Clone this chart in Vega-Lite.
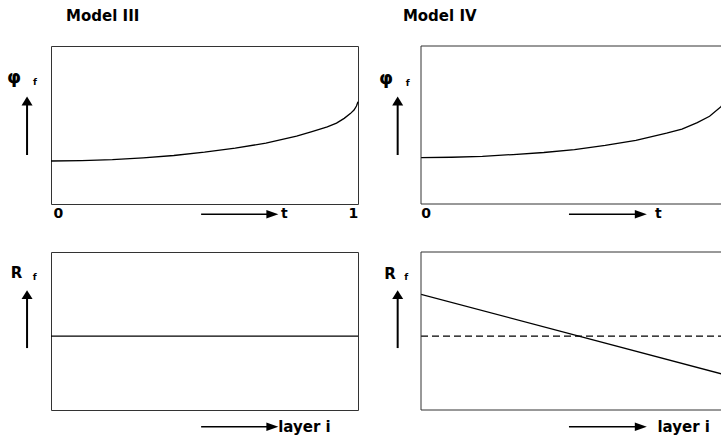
{
  "$schema": "https://vega.github.io/schema/vega-lite/v6.json",
  "background": "white",
  "padding": {"left": 6, "top": 8, "right": 0, "bottom": 0},
  "datasets": {
    "phi_III": [
      {"t": 0.0, "phi": 0.272}, {"t": 0.1, "phi": 0.275}, {"t": 0.2, "phi": 0.281},
      {"t": 0.3, "phi": 0.292}, {"t": 0.4, "phi": 0.307}, {"t": 0.5, "phi": 0.328},
      {"t": 0.6, "phi": 0.354}, {"t": 0.7, "phi": 0.385}, {"t": 0.8, "phi": 0.43},
      {"t": 0.85, "phi": 0.458}, {"t": 0.9, "phi": 0.488}, {"t": 0.93, "phi": 0.512},
      {"t": 0.955, "phi": 0.542}, {"t": 0.975, "phi": 0.572}, {"t": 0.987, "phi": 0.595},
      {"t": 0.995, "phi": 0.62}, {"t": 1.0, "phi": 0.647}
    ],
    "phi_IV": [
      {"t": 0.0, "phi": 0.293}, {"t": 0.1, "phi": 0.296}, {"t": 0.2, "phi": 0.302},
      {"t": 0.3, "phi": 0.313}, {"t": 0.4, "phi": 0.326}, {"t": 0.5, "phi": 0.344},
      {"t": 0.6, "phi": 0.371}, {"t": 0.7, "phi": 0.403}, {"t": 0.8, "phi": 0.448},
      {"t": 0.85, "phi": 0.474}, {"t": 0.9, "phi": 0.515}, {"t": 0.94, "phi": 0.555},
      {"t": 0.977, "phi": 0.616}, {"t": 1.0, "phi": 0.68}
    ],
    "r_III": [{"layer": 0, "r": 0.468}, {"layer": 1, "r": 0.468}],
    "r_IV": [{"layer": 0, "r": 0.732}, {"layer": 1, "r": 0.218}],
    "r_IV_ref": [{"layer": 0, "r": 0.468}, {"layer": 1, "r": 0.468}]
  },
  "data": {"values": [{}]},
  "config": {
    "view": {"stroke": "#333", "strokeWidth": 1},
    "axis": {"disable": true},
    "text": {"font": "DejaVu Sans", "color": "black", "baseline": "middle"},
    "line": {"color": "black"},
    "rule": {"color": "black"},
    "point": {"color": "black", "filled": true, "opacity": 1}
  },
  "columns": 2,
  "spacing": {"row": 48, "column": 63},
  "bounds": "flush",
  "concat": [
    {
      "width": 307, "height": 158,
      "layer": [
        {"data": {"name": "phi_III"}, "mark": {"type": "line", "strokeWidth": 1.3},
         "encoding": {"x": {"field": "t", "type": "quantitative", "scale": {"domain": [0, 1]}},
                      "y": {"field": "phi", "type": "quantitative", "scale": {"domain": [0, 1]}}}},
        {"mark": {"type": "text", "text": "Model III", "align": "left", "fontSize": 15, "fontWeight": "bold"},
         "encoding": {"x": {"datum": 0.049, "type": "quantitative", "scale": {"domain": [0, 1]}},
                      "y": {"datum": 1.19, "type": "quantitative", "scale": {"domain": [0, 1]}}}},
        {"mark": {"type": "text", "text": "φ", "fontSize": 18, "fontWeight": "bold"},
         "encoding": {"x": {"datum": -0.12, "type": "quantitative", "scale": {"domain": [0, 1]}},
                      "y": {"datum": 0.8, "type": "quantitative", "scale": {"domain": [0, 1]}}}},
        {"mark": {"type": "text", "text": "f", "fontSize": 9, "fontWeight": "bold"},
         "encoding": {"x": {"datum": -0.052, "type": "quantitative", "scale": {"domain": [0, 1]}},
                      "y": {"datum": 0.77, "type": "quantitative", "scale": {"domain": [0, 1]}}}},
        {"mark": {"type": "rule", "strokeWidth": 2},
         "encoding": {"x": {"datum": -0.078, "type": "quantitative", "scale": {"domain": [0, 1]}},
                      "y": {"datum": 0.31, "type": "quantitative", "scale": {"domain": [0, 1]}},
                      "y2": {"datum": 0.63}}},
        {"mark": {"type": "point", "shape": "M-1,0.8L0,-0.8L1,0.8Z", "size": 121, "strokeWidth": 0},
         "encoding": {"x": {"datum": -0.078, "type": "quantitative", "scale": {"domain": [0, 1]}},
                      "y": {"datum": 0.652, "type": "quantitative", "scale": {"domain": [0, 1]}}}},
        {"mark": {"type": "rule", "strokeWidth": 1.6},
         "encoding": {"x": {"datum": 0.489, "type": "quantitative", "scale": {"domain": [0, 1]}},
                      "x2": {"datum": 0.705},
                      "y": {"datum": -0.065, "type": "quantitative", "scale": {"domain": [0, 1]}}}},
        {"mark": {"type": "point", "shape": "M-1,-0.7L1,0L-1,0.7Z", "size": 144, "strokeWidth": 0},
         "encoding": {"x": {"datum": 0.721, "type": "quantitative", "scale": {"domain": [0, 1]}},
                      "y": {"datum": -0.065, "type": "quantitative", "scale": {"domain": [0, 1]}}}},
        {"mark": {"type": "text", "text": "t", "align": "left", "fontSize": 14, "fontWeight": "bold"},
         "encoding": {"x": {"datum": 0.749, "type": "quantitative", "scale": {"domain": [0, 1]}},
                      "y": {"datum": -0.065, "type": "quantitative", "scale": {"domain": [0, 1]}}}},
        {"mark": {"type": "text", "text": "0", "fontSize": 14, "fontWeight": "bold"},
         "encoding": {"x": {"datum": 0.024, "type": "quantitative", "scale": {"domain": [0, 1]}},
                      "y": {"datum": -0.062, "type": "quantitative", "scale": {"domain": [0, 1]}}}},
        {"mark": {"type": "text", "text": "1", "fontSize": 14, "fontWeight": "bold"},
         "encoding": {"x": {"datum": 0.985, "type": "quantitative", "scale": {"domain": [0, 1]}},
                      "y": {"datum": -0.062, "type": "quantitative", "scale": {"domain": [0, 1]}}}}
      ]
    },
    {
      "width": 301, "height": 158,
      "view": {"stroke": null},
      "layer": [
        {"data": {"name": "phi_IV"}, "mark": {"type": "line", "strokeWidth": 1.3, "clip": true},
         "encoding": {"x": {"field": "t", "type": "quantitative", "scale": {"domain": [0, 0.9805]}},
                      "y": {"field": "phi", "type": "quantitative", "scale": {"domain": [0, 1]}}}},
        {"mark": {"type": "rule", "strokeWidth": 1, "color": "#333"},
         "encoding": {"x": {"datum": 0, "type": "quantitative", "scale": {"domain": [0, 0.9805]}},
                      "y": {"datum": 0, "type": "quantitative", "scale": {"domain": [0, 1]}},
                      "y2": {"datum": 1}}},
        {"mark": {"type": "rule", "strokeWidth": 1, "color": "#333"},
         "encoding": {"x": {"datum": 0, "type": "quantitative", "scale": {"domain": [0, 0.9805]}},
                      "x2": {"datum": 0.9805},
                      "y": {"datum": 0, "type": "quantitative", "scale": {"domain": [0, 1]}}}},
        {"mark": {"type": "rule", "strokeWidth": 1, "color": "#333"},
         "encoding": {"x": {"datum": 0, "type": "quantitative", "scale": {"domain": [0, 0.9805]}},
                      "x2": {"datum": 0.9805},
                      "y": {"datum": 1, "type": "quantitative", "scale": {"domain": [0, 1]}}}},
        {"mark": {"type": "text", "text": "Model IV", "align": "left", "fontSize": 15, "fontWeight": "bold"},
         "encoding": {"x": {"datum": -0.059, "type": "quantitative", "scale": {"domain": [0, 0.9805]}},
                      "y": {"datum": 1.19, "type": "quantitative", "scale": {"domain": [0, 1]}}}},
        {"mark": {"type": "text", "text": "φ", "fontSize": 18, "fontWeight": "bold"},
         "encoding": {"x": {"datum": -0.114, "type": "quantitative", "scale": {"domain": [0, 0.9805]}},
                      "y": {"datum": 0.79, "type": "quantitative", "scale": {"domain": [0, 1]}}}},
        {"mark": {"type": "text", "text": "f", "fontSize": 9, "fontWeight": "bold"},
         "encoding": {"x": {"datum": -0.043, "type": "quantitative", "scale": {"domain": [0, 0.9805]}},
                      "y": {"datum": 0.765, "type": "quantitative", "scale": {"domain": [0, 1]}}}},
        {"mark": {"type": "rule", "strokeWidth": 2},
         "encoding": {"x": {"datum": -0.076, "type": "quantitative", "scale": {"domain": [0, 0.9805]}},
                      "y": {"datum": 0.31, "type": "quantitative", "scale": {"domain": [0, 1]}},
                      "y2": {"datum": 0.63}}},
        {"mark": {"type": "point", "shape": "M-1,0.8L0,-0.8L1,0.8Z", "size": 121, "strokeWidth": 0},
         "encoding": {"x": {"datum": -0.076, "type": "quantitative", "scale": {"domain": [0, 0.9805]}},
                      "y": {"datum": 0.652, "type": "quantitative", "scale": {"domain": [0, 1]}}}},
        {"mark": {"type": "rule", "strokeWidth": 1.6},
         "encoding": {"x": {"datum": 0.482, "type": "quantitative", "scale": {"domain": [0, 0.9805]}},
                      "x2": {"datum": 0.7},
                      "y": {"datum": -0.065, "type": "quantitative", "scale": {"domain": [0, 1]}}}},
        {"mark": {"type": "point", "shape": "M-1,-0.7L1,0L-1,0.7Z", "size": 144, "strokeWidth": 0},
         "encoding": {"x": {"datum": 0.716, "type": "quantitative", "scale": {"domain": [0, 0.9805]}},
                      "y": {"datum": -0.065, "type": "quantitative", "scale": {"domain": [0, 1]}}}},
        {"mark": {"type": "text", "text": "t", "align": "left", "fontSize": 14, "fontWeight": "bold"},
         "encoding": {"x": {"datum": 0.762, "type": "quantitative", "scale": {"domain": [0, 0.9805]}},
                      "y": {"datum": -0.065, "type": "quantitative", "scale": {"domain": [0, 1]}}}},
        {"mark": {"type": "text", "text": "0", "fontSize": 14, "fontWeight": "bold"},
         "encoding": {"x": {"datum": 0.017, "type": "quantitative", "scale": {"domain": [0, 0.9805]}},
                      "y": {"datum": -0.062, "type": "quantitative", "scale": {"domain": [0, 1]}}}}
      ]
    },
    {
      "width": 307, "height": 158,
      "layer": [
        {"data": {"name": "r_III"}, "mark": {"type": "line", "strokeWidth": 1.2},
         "encoding": {"x": {"field": "layer", "type": "quantitative", "scale": {"domain": [0, 1]}},
                      "y": {"field": "r", "type": "quantitative", "scale": {"domain": [0, 1]}}}},
        {"mark": {"type": "text", "text": "R", "fontSize": 15, "fontWeight": "bold"},
         "encoding": {"x": {"datum": -0.112, "type": "quantitative", "scale": {"domain": [0, 1]}},
                      "y": {"datum": 0.867, "type": "quantitative", "scale": {"domain": [0, 1]}}}},
        {"mark": {"type": "text", "text": "f", "fontSize": 9, "fontWeight": "bold"},
         "encoding": {"x": {"datum": -0.053, "type": "quantitative", "scale": {"domain": [0, 1]}},
                      "y": {"datum": 0.842, "type": "quantitative", "scale": {"domain": [0, 1]}}}},
        {"mark": {"type": "rule", "strokeWidth": 2},
         "encoding": {"x": {"datum": -0.078, "type": "quantitative", "scale": {"domain": [0, 1]}},
                      "y": {"datum": 0.392, "type": "quantitative", "scale": {"domain": [0, 1]}},
                      "y2": {"datum": 0.705}}},
        {"mark": {"type": "point", "shape": "M-1,0.8L0,-0.8L1,0.8Z", "size": 121, "strokeWidth": 0},
         "encoding": {"x": {"datum": -0.078, "type": "quantitative", "scale": {"domain": [0, 1]}},
                      "y": {"datum": 0.73, "type": "quantitative", "scale": {"domain": [0, 1]}}}},
        {"mark": {"type": "rule", "strokeWidth": 1.6},
         "encoding": {"x": {"datum": 0.489, "type": "quantitative", "scale": {"domain": [0, 1]}},
                      "x2": {"datum": 0.705},
                      "y": {"datum": -0.106, "type": "quantitative", "scale": {"domain": [0, 1]}}}},
        {"mark": {"type": "point", "shape": "M-1,-0.7L1,0L-1,0.7Z", "size": 144, "strokeWidth": 0},
         "encoding": {"x": {"datum": 0.721, "type": "quantitative", "scale": {"domain": [0, 1]}},
                      "y": {"datum": -0.106, "type": "quantitative", "scale": {"domain": [0, 1]}}}},
        {"mark": {"type": "text", "text": "layer i", "align": "left", "fontSize": 15, "fontWeight": "bold"},
         "encoding": {"x": {"datum": 0.74, "type": "quantitative", "scale": {"domain": [0, 1]}},
                      "y": {"datum": -0.106, "type": "quantitative", "scale": {"domain": [0, 1]}}}}
      ]
    },
    {
      "width": 301, "height": 158,
      "view": {"stroke": null},
      "layer": [
        {"data": {"name": "r_IV_ref"}, "mark": {"type": "line", "strokeWidth": 1.2, "strokeDash": [7, 4], "clip": true},
         "encoding": {"x": {"field": "layer", "type": "quantitative", "scale": {"domain": [0, 0.9805]}},
                      "y": {"field": "r", "type": "quantitative", "scale": {"domain": [0, 1]}}}},
        {"data": {"name": "r_IV"}, "mark": {"type": "line", "strokeWidth": 1.3, "clip": true},
         "encoding": {"x": {"field": "layer", "type": "quantitative", "scale": {"domain": [0, 0.9805]}},
                      "y": {"field": "r", "type": "quantitative", "scale": {"domain": [0, 1]}}}},
        {"mark": {"type": "rule", "strokeWidth": 1, "color": "#333"},
         "encoding": {"x": {"datum": 0, "type": "quantitative", "scale": {"domain": [0, 0.9805]}},
                      "y": {"datum": 0, "type": "quantitative", "scale": {"domain": [0, 1]}},
                      "y2": {"datum": 1}}},
        {"mark": {"type": "rule", "strokeWidth": 1, "color": "#333"},
         "encoding": {"x": {"datum": 0, "type": "quantitative", "scale": {"domain": [0, 0.9805]}},
                      "x2": {"datum": 0.9805},
                      "y": {"datum": 0, "type": "quantitative", "scale": {"domain": [0, 1]}}}},
        {"mark": {"type": "rule", "strokeWidth": 1, "color": "#333"},
         "encoding": {"x": {"datum": 0, "type": "quantitative", "scale": {"domain": [0, 0.9805]}},
                      "x2": {"datum": 0.9805},
                      "y": {"datum": 1, "type": "quantitative", "scale": {"domain": [0, 1]}}}},
        {"mark": {"type": "text", "text": "R", "fontSize": 15, "fontWeight": "bold"},
         "encoding": {"x": {"datum": -0.101, "type": "quantitative", "scale": {"domain": [0, 0.9805]}},
                      "y": {"datum": 0.861, "type": "quantitative", "scale": {"domain": [0, 1]}}}},
        {"mark": {"type": "text", "text": "f", "fontSize": 9, "fontWeight": "bold"},
         "encoding": {"x": {"datum": -0.048, "type": "quantitative", "scale": {"domain": [0, 0.9805]}},
                      "y": {"datum": 0.842, "type": "quantitative", "scale": {"domain": [0, 1]}}}},
        {"mark": {"type": "rule", "strokeWidth": 2},
         "encoding": {"x": {"datum": -0.076, "type": "quantitative", "scale": {"domain": [0, 0.9805]}},
                      "y": {"datum": 0.392, "type": "quantitative", "scale": {"domain": [0, 1]}},
                      "y2": {"datum": 0.705}}},
        {"mark": {"type": "point", "shape": "M-1,0.8L0,-0.8L1,0.8Z", "size": 121, "strokeWidth": 0},
         "encoding": {"x": {"datum": -0.076, "type": "quantitative", "scale": {"domain": [0, 0.9805]}},
                      "y": {"datum": 0.73, "type": "quantitative", "scale": {"domain": [0, 1]}}}},
        {"mark": {"type": "rule", "strokeWidth": 1.6},
         "encoding": {"x": {"datum": 0.482, "type": "quantitative", "scale": {"domain": [0, 0.9805]}},
                      "x2": {"datum": 0.7},
                      "y": {"datum": -0.106, "type": "quantitative", "scale": {"domain": [0, 1]}}}},
        {"mark": {"type": "point", "shape": "M-1,-0.7L1,0L-1,0.7Z", "size": 144, "strokeWidth": 0},
         "encoding": {"x": {"datum": 0.716, "type": "quantitative", "scale": {"domain": [0, 0.9805]}},
                      "y": {"datum": -0.106, "type": "quantitative", "scale": {"domain": [0, 1]}}}},
        {"mark": {"type": "text", "text": "layer i", "align": "left", "fontSize": 15, "fontWeight": "bold"},
         "encoding": {"x": {"datum": 0.77, "type": "quantitative", "scale": {"domain": [0, 0.9805]}},
                      "y": {"datum": -0.106, "type": "quantitative", "scale": {"domain": [0, 1]}}}}
      ]
    }
  ]
}
